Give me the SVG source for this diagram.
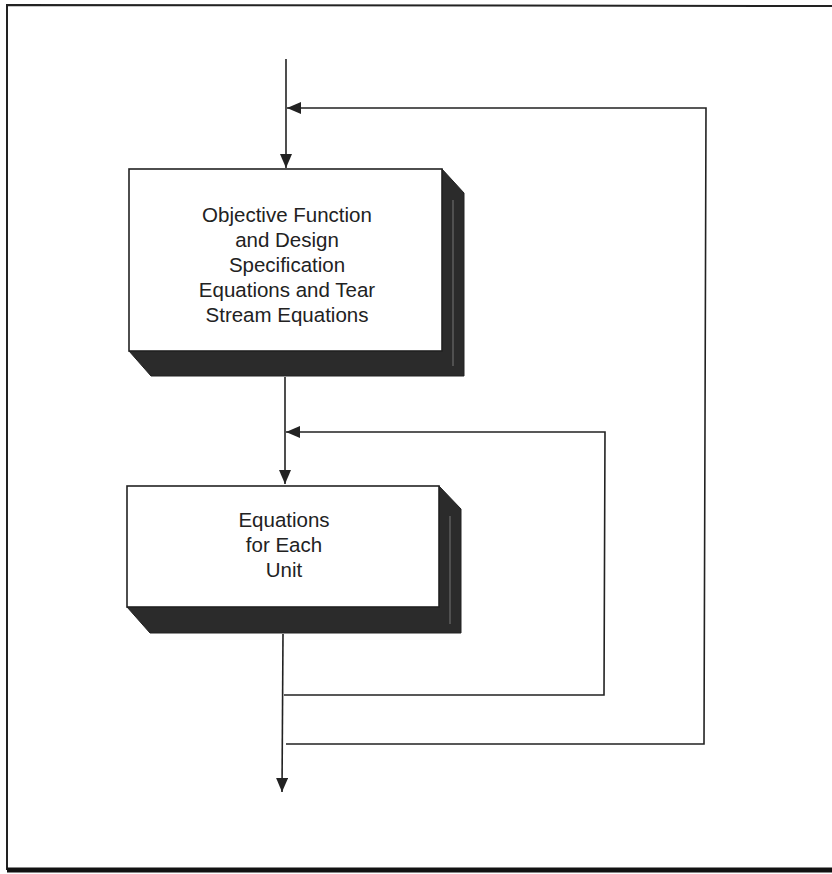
<svg xmlns="http://www.w3.org/2000/svg" width="832" height="874" viewBox="0 0 832 874">
<defs>
<style>
.ln{fill:none;stroke:#222;stroke-width:1.6}
.face{fill:#fff;stroke:#222;stroke-width:1.6}
.side{fill:#2b2b2b;stroke:#222;stroke-width:1}
.txt{font-family:"Liberation Sans",Arial,sans-serif;font-size:20.5px;fill:#222;text-anchor:middle}
</style>
<marker id="ah" viewBox="0 0 14 12" refX="14" refY="6" markerWidth="14" markerHeight="12" markerUnits="userSpaceOnUse" orient="auto">
<path d="M0,0 L14,6 L0,12 Z" fill="#222"/>
</marker>
</defs>
<rect width="832" height="874" fill="#fff"/>
<g id="frame">
<path d="M832,6 L7,5 L7,870" fill="none" stroke="#222" stroke-width="2"/>
<line x1="7" y1="870" x2="832" y2="870" stroke="#111" stroke-width="5"/>
</g>
<g id="connectors">
<line class="ln" x1="286" y1="59" x2="286" y2="168" marker-end="url(#ah)"/>
<path class="ln" d="M286,744 L704,744 L706,108 L287,108" marker-end="url(#ah)"/>
<line class="ln" x1="285" y1="377" x2="285" y2="484" marker-end="url(#ah)"/>
<path class="ln" d="M284,695 L604,695 L605,432 L286,432" marker-end="url(#ah)"/>
<line class="ln" x1="283" y1="634" x2="282" y2="792" marker-end="url(#ah)"/>
</g>
<g id="node1">
<path class="side" d="M442,169 L464,193 L464,376 L151,376 L129,351 L442,351 Z"/>
<line x1="453" y1="200" x2="453" y2="366" stroke="#777" stroke-width="1"/>
<rect class="face" x="129" y="169" width="313" height="182"/>
<text class="txt" x="287" y="222">Objective Function</text>
<text class="txt" x="287" y="247">and Design</text>
<text class="txt" x="287" y="272">Specification</text>
<text class="txt" x="287" y="297">Equations and Tear</text>
<text class="txt" x="287" y="322">Stream Equations</text>
</g>
<g id="node2">
<path class="side" d="M439,486 L461,509 L461,633 L150,633 L127,607 L439,607 Z"/>
<line x1="450" y1="516" x2="450" y2="624" stroke="#777" stroke-width="1"/>
<rect class="face" x="127" y="486" width="312" height="121"/>
<text class="txt" x="284" y="527">Equations</text>
<text class="txt" x="284" y="552">for Each</text>
<text class="txt" x="284" y="577">Unit</text>
</g>
</svg>
